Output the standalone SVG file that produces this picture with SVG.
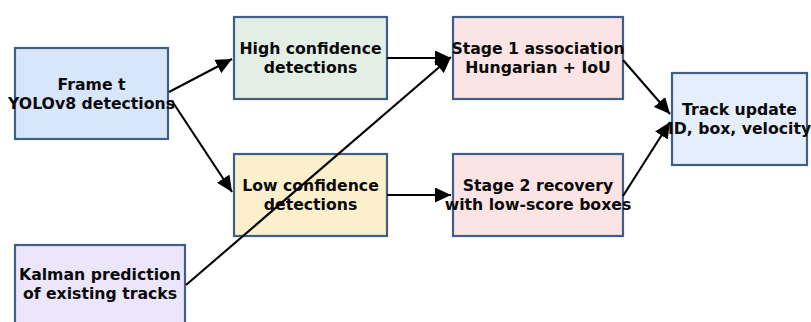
<svg xmlns="http://www.w3.org/2000/svg" width="811" height="322" viewBox="0 0 811 322">
  <defs>
    <style>
      .box { stroke: #3f5f86; stroke-width: 2.2; }
      .lbl { font-family: "DejaVu Sans", "Liberation Sans", sans-serif; font-weight: bold; font-size: 15.7px; fill: #0a0a0a; text-anchor: middle; }
      .edge { stroke: #000; stroke-width: 2.1; fill: none; marker-end: url(#arrow); }
    </style>
    <marker id="arrow" markerUnits="userSpaceOnUse" markerWidth="17" markerHeight="15" refX="16" refY="7.5" orient="auto">
      <path d="M0,0 L16,7.5 L0,15 Z" fill="#000"/>
    </marker>
  </defs>
  <rect width="811" height="322" fill="#fff"/>

  <g id="frame">
    <rect class="box" x="15" y="48" width="153" height="91" fill="#d7e6fb"/>
    <text class="lbl" x="91.5" y="89.5">Frame t</text>
    <text class="lbl" x="91.5" y="108.5">YOLOv8 detections</text>
  </g>

  <g id="high">
    <rect class="box" x="234" y="17" width="153" height="82" fill="#e3efe4"/>
    <text class="lbl" x="310.5" y="54">High confidence</text>
    <text class="lbl" x="310.5" y="73">detections</text>
  </g>

  <g id="stage1">
    <rect class="box" x="453" y="17" width="170" height="82" fill="#fce4e4"/>
    <text class="lbl" x="538" y="54">Stage 1 association</text>
    <text class="lbl" x="538" y="73">Hungarian + IoU</text>
  </g>

  <g id="track">
    <rect class="box" x="672" y="73" width="135" height="92" fill="#e4eefc"/>
    <text class="lbl" x="739.5" y="114.5">Track update</text>
    <text class="lbl" x="739.5" y="133.5">ID, box, velocity</text>
  </g>

  <g id="kalman">
    <rect class="box" x="15" y="245" width="170" height="82" fill="#ebe6fa"/>
    <text class="lbl" x="100" y="280">Kalman prediction</text>
    <text class="lbl" x="100" y="299">of existing tracks</text>
  </g>

  <g id="low">
    <rect class="box" x="234" y="154" width="153" height="82" fill="#fbefcc"/>
    <text class="lbl" x="310.5" y="191">Low confidence</text>
    <text class="lbl" x="310.5" y="210">detections</text>
  </g>

  <g id="stage2">
    <rect class="box" x="453" y="154" width="170" height="82" fill="#fce4e4"/>
    <text class="lbl" x="538" y="191">Stage 2 recovery</text>
    <text class="lbl" x="538" y="210">with low-score boxes</text>
  </g>

  <g id="connectors">
    <line class="edge" x1="169" y1="92" x2="232" y2="59"/>
    <line class="edge" x1="172" y1="101" x2="232" y2="192"/>
    <line class="edge" x1="387" y1="58" x2="451" y2="58"/>
    <line class="edge" x1="186" y1="285" x2="451" y2="57"/>
    <line class="edge" x1="387" y1="195" x2="451" y2="195"/>
    <line class="edge" x1="623" y1="60" x2="670" y2="114"/>
    <line class="edge" x1="623" y1="196" x2="670" y2="122"/>
  </g>
</svg>
